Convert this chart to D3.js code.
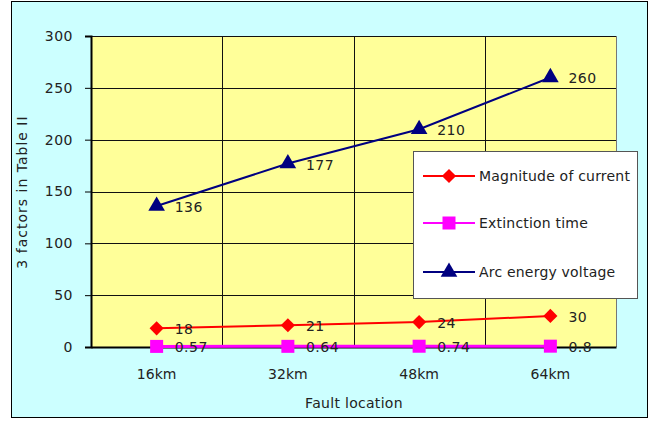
<!DOCTYPE html>
<html><head><meta charset="utf-8">
<script src="https://cdn.jsdelivr.net/npm/d3@7"></script>
<style>body{margin:0;background:#fff}svg text{font-family:"DejaVu Sans",sans-serif;}</style>
</head><body><svg id="c" width="655" height="421"></svg>
<script>
const categories = ["16km","32km","48km","64km"];
const current = [18,21,24,30];
const extinction = [0.57,0.64,0.74,0.8];
const arcVoltage = [136,177,210,260];
const yTicks = [0,50,100,150,200,250,300];
const seriesNames = ["Magnitude of current","Extinction time","Arc energy voltage"];

const svg = d3.select("#c");
svg.append("rect").attr("x",11.5).attr("y",1.5).attr("width",636).attr("height",416)
  .attr("fill","#ccffff").attr("stroke","#000").attr("stroke-width",1);

const L=91, R=616, T=36, B=347;
const x = d3.scaleBand().domain(categories).range([L,R]);
const y = d3.scaleLinear().domain([0,300]).range([B,T]);

svg.append("rect").attr("x",L).attr("y",T).attr("width",R-L).attr("height",B-T).attr("fill","#ffff99");
// gridlines
svg.append("g").selectAll("line").data(yTicks.slice(1)).join("line")
  .attr("x1",L).attr("x2",R).attr("y1",d=>Math.round(y(d))+0.5).attr("y2",d=>Math.round(y(d))+0.5)
  .attr("stroke","#111").attr("stroke-width",1);
svg.append("g").selectAll("line").data(categories.slice(1)).join("line")
  .attr("x1",d=>Math.round(x(d))+0.5).attr("x2",d=>Math.round(x(d))+0.5).attr("y1",T).attr("y2",B)
  .attr("stroke","#111").attr("stroke-width",1);
svg.append("line").attr("x1",R+0.5).attr("x2",R+0.5).attr("y1",T).attr("y2",B).attr("stroke","#777");

// axes
const yAxis = d3.axisLeft(y).tickValues(yTicks).tickSize(6).tickPadding(12);
const gy = svg.append("g").attr("transform",`translate(${L},0)`).call(yAxis);
gy.select(".domain").attr("stroke-width",2);
gy.selectAll("text").attr("font-size",14).attr("fill","#222").style("letter-spacing","0.5px");
const xAxis = d3.axisBottom(x).tickSize(0).tickPadding(22);
const gx = svg.append("g").attr("transform",`translate(0,${B})`).call(xAxis);
gx.select(".domain").attr("stroke-width",2);
gx.selectAll("text").attr("font-size",14).attr("fill","#222");

svg.append("text").attr("x",354).attr("y",408).attr("text-anchor","middle").attr("font-size",14)
  .attr("fill","#222").style("letter-spacing","0.3px").text("Fault location");
svg.append("text").attr("transform","translate(27,192) rotate(-90)").attr("text-anchor","middle")
  .attr("font-size",14).attr("fill","#222").style("letter-spacing","1px").text("3 factors in Table II");

const cx = d => x(d)+x.bandwidth()/2;
const series = [
  {name:seriesNames[0], vals:current, color:"#ff0000", sym:d3.symbolSquare, size:100, rot:45, w:2},
  {name:seriesNames[1], vals:extinction, color:"#ff00ff", sym:d3.symbolSquare, size:169, rot:0, w:3},
  {name:seriesNames[2], vals:arcVoltage, color:"#000080", sym:d3.symbolTriangle, size:120, rot:0, w:2},
];
series.forEach(s=>{
  const line = d3.line().x((d,i)=>cx(categories[i])).y(d=>y(d));
  svg.append("path").datum(s.vals).attr("d",line).attr("fill","none").attr("stroke",s.color).attr("stroke-width",s.w);
});
series.forEach(s=>{
  svg.append("g").selectAll("path").data(s.vals).join("path")
    .attr("transform",(d,i)=>`translate(${cx(categories[i])},${y(d)}) rotate(${s.rot})`)
    .attr("d",d3.symbol().type(s.sym).size(s.size)).attr("fill",s.color);
  svg.append("g").selectAll("text").data(s.vals).join("text")
    .attr("x",(d,i)=>cx(categories[i])+18).attr("y",d=>y(d)+6)
    .attr("font-size",14).attr("fill","#222").style("letter-spacing","0.5px").text(d=>d);
});

// legend
const lg = svg.append("g");
lg.append("rect").attr("x",413.5).attr("y",151.5).attr("width",224).attr("height",147).attr("fill","#fff").attr("stroke","#555");
series.forEach((s,i)=>{
  const ly = [176,223,272][i];
  lg.append("line").attr("x1",423).attr("x2",475).attr("y1",ly).attr("y2",ly).attr("stroke",s.color).attr("stroke-width",2);
  lg.append("path").attr("transform",`translate(449,${ly}) rotate(${s.rot})`).attr("d",d3.symbol().type(s.sym).size(s.size)).attr("fill",s.color);
  lg.append("text").attr("x",479).attr("y",ly+5).attr("font-size",14).attr("fill","#222")
    .style("letter-spacing","0.2px").text(s.name);
});
</script></body></html>
